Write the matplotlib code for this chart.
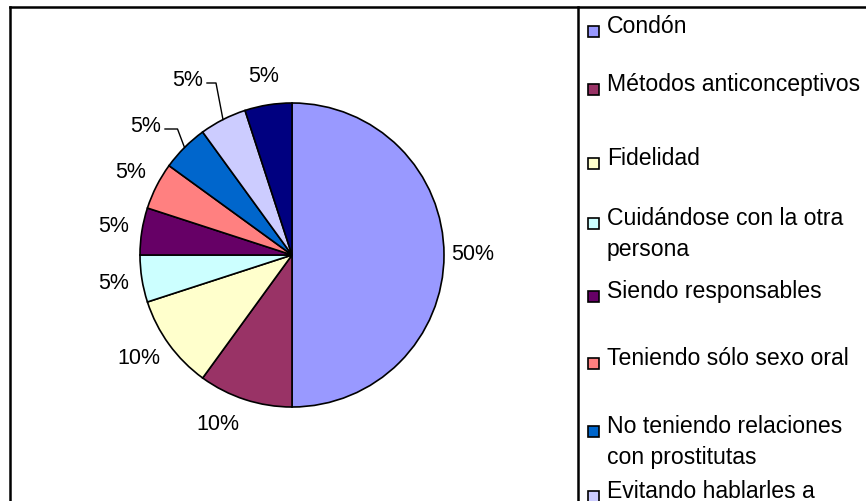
import numpy as np
import matplotlib.pyplot as plt
from matplotlib.patches import Rectangle

# datos
categorias = ["Condón", "Métodos anticonceptivos", "Fidelidad",
              "Cuidándose con la otra\npersona", "Siendo responsables",
              "Teniendo sólo sexo oral", "No teniendo relaciones\ncon prostitutas",
              "Evitando hablarles a", ""]
valores = [50, 10, 10, 5, 5, 5, 5, 5, 5]
colores = ["#9999FF", "#993366", "#FFFFCC", "#CCFFFF", "#660066",
           "#FF8080", "#0066CC", "#CCCCFF", "#000080"]

# layout (pixeles)
W, H = 866, 501
CX, CY, R = 292, 255, 152
FS = 15.5
FS_LEY = 16.6
leyenda_base = [33, 91, 165, 225, 298, 365, 433, 498]
linea_sep = 31

plt.rcParams['font.family'] = ['Liberation Sans', 'DejaVu Sans']

fig = plt.figure(figsize=(W / 100, H / 100), dpi=100)
ax = fig.add_axes([0, 0, 1, 1])


def py(y):
    return H - y


wedges, _, autotexts = ax.pie(
    valores, colors=colores, startangle=90, counterclock=False,
    center=(CX, py(CY)), radius=R, autopct='%1.0f%%', pctdistance=1.19,
    wedgeprops=dict(edgecolor='black', linewidth=1.2),
    textprops=dict(fontsize=FS, color='black'))

ax.set_xlim(0, W)
ax.set_ylim(0, H)
ax.set_aspect('equal')
ax.axis('off')

# ajustes de etiquetas como en Excel
ajustes = {1: (218, 424), 2: (139, 358)}
for i, (lx, ly) in ajustes.items():
    autotexts[i].set_position((lx, py(ly)))

# etiquetas con linea guia
guias = {6: (146, 126), 7: (188, 80)}
for i, (lx, ly) in guias.items():
    w = wedges[i]
    ang = np.deg2rad((w.theta1 + w.theta2) / 2)
    ex = CX + R * np.cos(ang)
    ey = py(CY) + R * np.sin(ang)
    autotexts[i].set_position((lx, py(ly)))
    x0 = lx + 19
    x1 = ex - 7
    ax.plot([x0, x1, ex], [py(ly + 3), py(ly + 3), ey], color='black', lw=1.0)

# marco
lw = 1.8
ax.plot([10, W + 5], [py(7), py(7)], color='black', lw=lw, clip_on=False)
ax.plot([10, 10], [py(7), -5], color='black', lw=lw, clip_on=False)
ax.plot([578, 578], [py(7), -5], color='black', lw=lw, clip_on=False)

# leyenda
for nombre, col, base in zip(categorias, colores, leyenda_base):
    ax.add_patch(Rectangle((588, py(base + 4)), 11, 11, facecolor=col,
                           edgecolor='black', linewidth=1.2))
    for k, linea in enumerate(nombre.split("\n")):
        ax.text(607, py(base + k * linea_sep), linea, fontsize=FS_LEY,
                va='baseline', ha='left')

fig.savefig("out.png", dpi=100)
